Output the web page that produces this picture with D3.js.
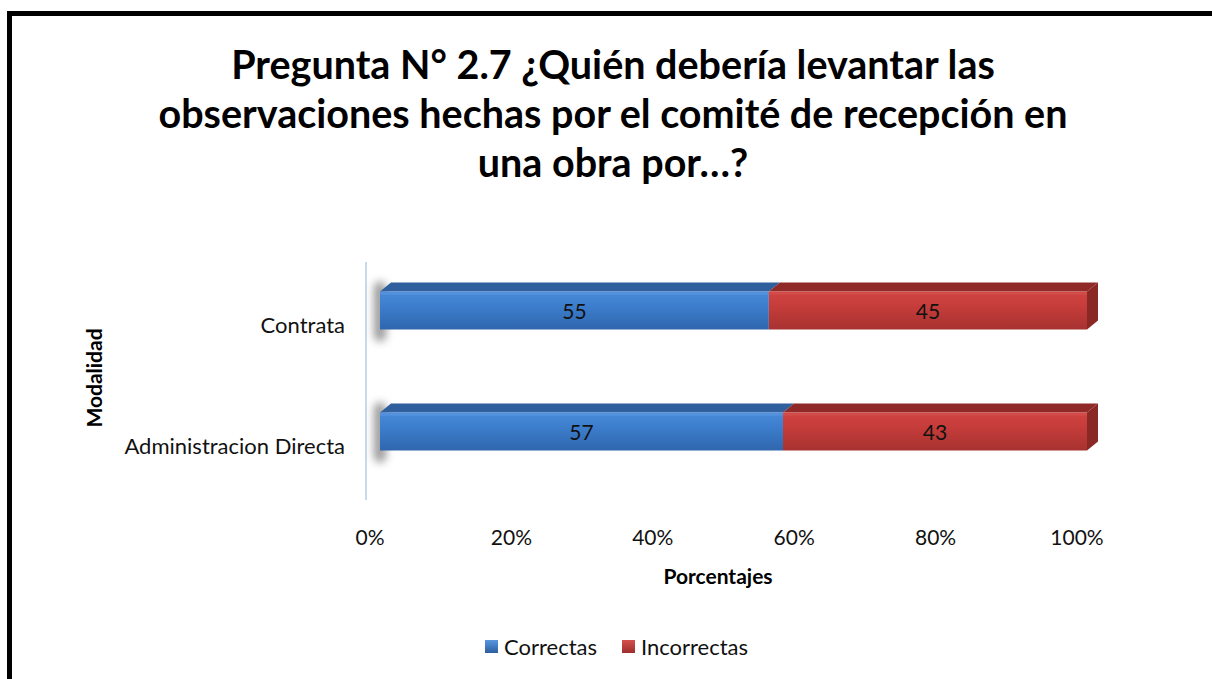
<!doctype html>
<html lang="es">
<head>
  <meta charset="utf-8">
  <title>Pregunta 2.7</title>
  <style>
    body { margin: 0; background: #fff; }
    svg { display: block; font-family: Lato, "Open Sans", sans-serif; }
    .tick-label { font-size: 21px; fill: #111; }
    .cat-label { font-size: 22px; fill: #111; }
  </style>
</head>
<body>
  <div id="chart"></div>
  <script src="https://cdn.jsdelivr.net/npm/d3@7"></script>
  <script>
(function() {

  var width = 1212;
  var height = 679;

  // data
  var categories = ["Contrata", "Administracion Directa"];
  var correctas = [55, 57];
  var incorrectas = [45, 43];
  var seriesNames = ["Correctas", "Incorrectas"];
  var tickValues = [0, 20, 40, 60, 80, 100];
  var titleLines = [
    "Pregunta N° 2.7 ¿Quién debería levantar las",
    "observaciones hechas por el comité de recepción en",
    "una obra por…?"
  ];

  var svg = d3.select("#chart")
      .append("svg")
      .attr("width", width)
      .attr("height", height);

  var defs = svg.append("defs");

  // front face gradients
  function grad(id, stops) {
    var g = defs.append("linearGradient").attr("id", id)
      .attr("x1", 0).attr("y1", 0).attr("x2", 0).attr("y2", 1);
    stops.forEach(function(s) {
      g.append("stop").attr("offset", s[0]).attr("stop-color", s[1]);
    });
  }
  grad("blueFront", [[0, "#4a8ad8"], [0.35, "#3d7fce"], [1, "#2f66ae"]]);
  grad("redFront", [[0, "#cf4442"], [0.35, "#c73d3b"], [1, "#a73230"]]);
  grad("blueLeg", [[0, "#5a97e0"], [1, "#2b5f9f"]]);
  grad("redLeg", [[0, "#d4504d"], [1, "#9d2e2c"]]);

  var blur = defs.append("filter").attr("id", "shadow")
    .attr("x", "-100%").attr("y", "-100%").attr("width", "300%").attr("height", "300%");
  blur.append("feGaussianBlur").attr("stdDeviation", 4);

  // frame
  svg.append("rect")
    .attr("x", 9.5).attr("y", 13.5)
    .attr("width", width + 20).attr("height", height + 20)
    .attr("fill", "none")
    .attr("stroke", "#000")
    .attr("stroke-width", 5);

  // title
  svg.append("g").selectAll("text")
    .data(titleLines)
    .enter().append("text")
    .attr("x", 613)
    .attr("y", function(d, i) { return 79 + i * 49; })
    .attr("text-anchor", "middle")
    .style("font-size", "39.5px")
    .style("font-weight", "bold")
    .attr("fill", "#000")
    .text(function(d) { return d; });

  var x = d3.scaleLinear().domain([0, 100]).range([380, 1087]);
  var y = d3.scaleBand().domain(categories)
    .range([250, 492])
    .paddingInner(0.686)
    .paddingOuter(0.343);

  var dx = 11, dy = 9;   // 3d depth offset

  // vertical axis line
  svg.append("line")
    .attr("x1", 366).attr("x2", 366)
    .attr("y1", 262).attr("y2", 500)
    .attr("stroke", "#c9d9ec")
    .attr("stroke-width", 2);

  var rows = categories.map(function(c, i) {
    return { cat: c, segs: [
      { s: 0, x0: 0, x1: correctas[i], v: correctas[i] },
      { s: 1, x0: correctas[i], x1: correctas[i] + incorrectas[i], v: incorrectas[i] }
    ]};
  });

  var bars = svg.append("g");

  // shadows at left end
  bars.selectAll("rect.sh")
    .data(rows)
    .enter().append("rect")
    .attr("class", "sh")
    .attr("x", x(0) - 6)
    .attr("y", function(d) { return y(d.cat) - 10; })
    .attr("width", 12)
    .attr("height", y.bandwidth() + 22)
    .attr("rx", 6)
    .attr("fill", "#777")
    .attr("opacity", 0.75)
    .attr("filter", "url(#shadow)");

  var frontFill = ["url(#blueFront)", "url(#redFront)"];
  var topFill = ["#2f5f9c", "#8f2a28"];
  var sideFill = ["#2a568e", "#8a2826"];

  rows.forEach(function(r) {
    var g = bars.append("g");
    var y0 = y(r.cat), h = y.bandwidth();
    r.segs.forEach(function(sg) {
      var a = x(sg.x0), b = x(sg.x1);
      // top face
      g.append("path")
        .attr("d", "M" + a + "," + y0 + "L" + (a + dx) + "," + (y0 - dy) +
          "L" + (b + dx) + "," + (y0 - dy) + "L" + b + "," + y0 + "Z")
        .attr("fill", topFill[sg.s]);
      // front face
      g.append("rect")
        .attr("x", a).attr("y", y0)
        .attr("width", b - a).attr("height", h)
        .attr("fill", frontFill[sg.s]);
      // thin highlight
      g.append("rect")
        .attr("x", a).attr("y", y0 + 1)
        .attr("width", b - a).attr("height", 2)
        .attr("fill", sg.s === 0 ? "#5b98e2" : "#d65250")
        .attr("opacity", 0.7);
    });
    // right side face of the last segment
    var e = x(r.segs[1].x1);
    g.append("path")
      .attr("d", "M" + e + "," + y0 + "L" + (e + dx) + "," + (y0 - dy) +
        "L" + (e + dx) + "," + (y0 + h - dy) + "L" + e + "," + (y0 + h) + "Z")
      .attr("fill", sideFill[1]);
    // labels
    r.segs.forEach(function(sg) {
      g.append("text")
        .attr("x", (x(sg.x0) + x(sg.x1)) / 2)
        .attr("y", y0 + h / 2 + 8)
        .attr("text-anchor", "middle")
        .style("font-size", "21px")
        .attr("fill", "#111")
        .text(sg.v);
    });
  });

  // category labels (sit a little below the bar centres, like the 3d floor)
  svg.append("g").selectAll("text")
    .data(categories)
    .enter().append("text")
    .attr("class", "cat-label")
    .attr("x", 345)
    .attr("y", function(d) { return y(d) + y.bandwidth() / 2 + 22; })
    .attr("text-anchor", "end")
    .text(function(d) { return d; });

  // x tick labels (floor of the 3d plot sits a bit left of the bars)
  svg.append("g").selectAll("text")
    .data(tickValues)
    .enter().append("text")
    .attr("class", "tick-label")
    .attr("x", function(d) { return x(d) - 10; })
    .attr("y", 545)
    .attr("text-anchor", "middle")
    .text(function(d) { return d + "%"; });

  // axis titles
  svg.append("text")
    .attr("x", 718).attr("y", 584)
    .attr("text-anchor", "middle")
    .style("font-size", "21px")
    .style("font-weight", "bold")
    .text("Porcentajes");

  svg.append("text")
    .attr("transform", "translate(102,378) rotate(-90)")
    .attr("text-anchor", "middle")
    .style("font-size", "21px")
    .style("font-weight", "bold")
    .text("Modalidad");

  // legend
  var legX = [485, 622];
  var leg = svg.append("g").selectAll("g")
    .data(seriesNames)
    .enter().append("g")
    .attr("transform", function(d, i) { return "translate(" + legX[i] + ",640)"; });
  leg.append("rect")
    .attr("width", 13).attr("height", 13)
    .attr("fill", function(d, i) { return i === 0 ? "url(#blueLeg)" : "url(#redLeg)"; });
  leg.append("text")
    .attr("x", 19).attr("y", 15)
    .style("font-size", "22px")
    .attr("fill", "#111")
    .text(function(d) { return d; });

})();
  </script>
</body>
</html>
